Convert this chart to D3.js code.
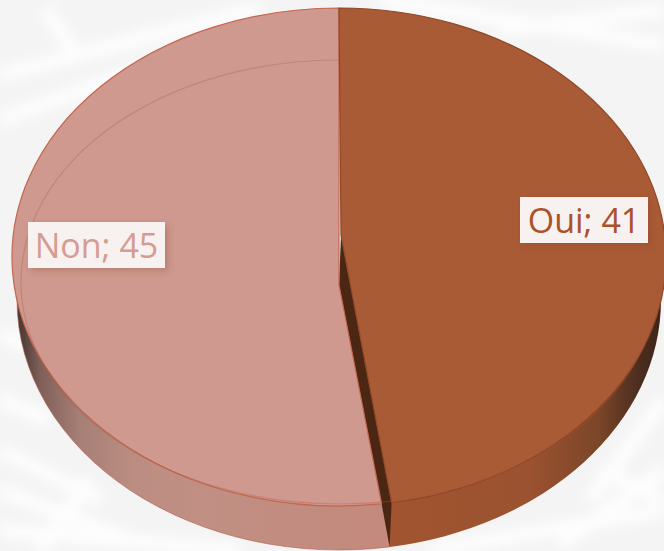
<!DOCTYPE html>
<html>
<head>
<meta charset="utf-8">
<script src="https://cdn.jsdelivr.net/npm/d3@7"></script>
<style>
  html, body { margin: 0; padding: 0; background: #f3f3f3; }
  svg { display: block; }
  text { font-family: "Open Sans", sans-serif; }
</style>
</head>
<body>
<svg id="chart" width="664" height="551"></svg>
<script>
const categories = ['Oui', 'Non'];
const values = [41, 45];
const sliceColors = ['#a95b36', '#cf998f'];
const labelColors = ['#ab5229', '#d59c92'];

const width = 664, height = 551;
const svg = d3.select('#chart');
const defs = svg.append('defs');

// top face and bottom edge of the disc
const face = { cx: 339, cy: 257, rx: 327, ry: 249 };
const base = { cx: 339, cy: 300, rx: 322, ry: 250 };

function wallGradient(id, stops) {
  const g = defs.append('linearGradient').attr('id', id)
    .attr('gradientUnits', 'userSpaceOnUse')
    .attr('x1', 0).attr('x2', width).attr('y1', 0).attr('y2', 0);
  stops.forEach(s => g.append('stop').attr('offset', s[0]).attr('stop-color', s[1]));
}
wallGradient('wallNon', [[0.03, '#4a3a35'], [0.06, '#7f5f58'], [0.12, '#a67f76'], [0.2, '#bb8d82'], [0.3, '#c18f84'], [0.6, '#c4897c']]);
wallGradient('wallOui', [[0.58, '#a2552f'], [0.8, '#9a5230'], [0.9, '#7c4629'], [0.965, '#4a2c1e'], [1, '#3c2417']]);

const blur = defs.append('filter').attr('id', 'soft')
  .attr('x', '-20%').attr('y', '-20%').attr('width', '140%').attr('height', '140%');
blur.append('feGaussianBlur').attr('stdDeviation', 6);
const shadow = defs.append('filter').attr('id', 'labelShadow')
  .attr('x', '-20%').attr('y', '-30%').attr('width', '140%').attr('height', '170%');
shadow.append('feDropShadow').attr('dx', 3).attr('dy', 3).attr('stdDeviation', 3)
  .attr('flood-color', '#7a3a20').attr('flood-opacity', 0.28);

// background paper
svg.append('rect').attr('width', width).attr('height', height).attr('fill', '#f4f4f4');
const fibres = svg.append('g').attr('filter', 'url(#soft)').attr('fill', 'none')
  .attr('stroke', '#ffffff').attr('stroke-width', 14).attr('opacity', 0.85);
[[0, 75, 260, 8], [0, 120, 180, 55], [45, 10, 80, 60], [380, 0, 664, 45], [500, 30, 664, 10],
 [0, 335, 30, 345], [0, 400, 50, 420], [0, 450, 100, 500], [0, 490, 130, 540], [40, 551, 90, 480], [0, 530, 240, 551],
 [590, 500, 664, 400], [560, 545, 664, 470], [430, 551, 664, 510], [600, 470, 664, 500]]
  .forEach(d => fibres.append('line').attr('x1', d[0]).attr('y1', d[1]).attr('x2', d[2]).attr('y2', d[3]));

const arcs = d3.pie().sort(null).value(d => d)(values);
const x = a => face.cx + face.rx * Math.sin(a);
const y = a => face.cy - face.ry * Math.cos(a);
// lower rim of the top face at a given x
const rimY = px => face.cy + face.ry * Math.sqrt(1 - Math.pow((px - face.cx) / face.rx, 2));

const splitAngle = arcs[0].endAngle;
const splitX = x(splitAngle) + 3;
const splitY = y(splitAngle);
const baseY = base.cy + base.ry * Math.sqrt(1 - Math.pow((splitX - base.cx) / base.rx, 2));

// side wall, split where the slices meet
function wall(leftSide) {
  const end = leftSide ? base.cx - base.rx : base.cx + base.rx;
  return `M${splitX},${splitY} L${splitX},${baseY} A${base.rx},${base.ry} 0 0 ${leftSide ? 1 : 0} ${end},${base.cy} L${end},${face.cy} L${splitX},${splitY}Z`;
}
svg.append('path').attr('d', wall(true)).attr('fill', 'url(#wallNon)')
  .attr('stroke', '#b5624a').attr('stroke-width', 0.6);
svg.append('path').attr('d', wall(false)).attr('fill', 'url(#wallOui)');

// dark inner face visible between the slices
const innerOui = [341, 235], innerNon = [339, 285];
svg.append('path')
  .attr('d', `M${innerOui} L${x(splitAngle) + 5},${rimY(x(splitAngle) + 5)} L${splitX},${baseY} L${x(splitAngle) - 5},${rimY(x(splitAngle) - 5)} L${innerNon}Z`)
  .attr('fill', '#4b2613');

// slice faces
function slicePath(d, i) {
  const inner = i === 0 ? innerOui : innerNon;
  const large = d.endAngle - d.startAngle > Math.PI ? 1 : 0;
  if (i === 0) {
    const ex = x(d.endAngle) + 5;
    return `M${inner} L${x(d.startAngle)},${y(d.startAngle)} A${face.rx},${face.ry} 0 ${large} 1 ${ex},${rimY(ex)}Z`;
  }
  const sx = x(d.startAngle) - 5;
  return `M${inner} L${sx},${rimY(sx)} A${face.rx},${face.ry} 0 ${large} 1 ${x(d.endAngle)},${y(d.endAngle)}Z`;
}
const slices = svg.append('g').selectAll('path').data(arcs).join('path')
  .attr('d', slicePath)
  .attr('fill', (d, i) => sliceColors[i])
  .attr('stroke', (d, i) => i === 0 ? '#8f4726' : '#c4664e')
  .attr('stroke-width', 1.2)
  .attr('stroke-linejoin', 'round');
slices.filter((d, i) => i === 0).raise();

// bevel ring on the top face
svg.append('ellipse')
  .attr('cx', 339).attr('cy', 282).attr('rx', 318).attr('ry', 222)
  .attr('fill', 'none').attr('stroke', '#a9553a').attr('stroke-opacity', 0.3).attr('stroke-width', 1.2);

// data labels
const labelBoxes = [[520, 197, 128, 46], [28, 222, 137, 46]];
const label = svg.append('g').selectAll('g').data(arcs).join('g');
label.append('rect')
  .attr('x', (d, i) => labelBoxes[i][0]).attr('y', (d, i) => labelBoxes[i][1])
  .attr('width', (d, i) => labelBoxes[i][2]).attr('height', (d, i) => labelBoxes[i][3])
  .attr('fill', '#f7f1f0').attr('filter', 'url(#labelShadow)');
label.append('text')
  .attr('x', (d, i) => labelBoxes[i][0] + labelBoxes[i][2] / 2)
  .attr('y', (d, i) => labelBoxes[i][1] + 36)
  .attr('text-anchor', 'middle')
  .attr('font-size', 34)
  .attr('fill', (d, i) => labelColors[i])
  .text((d, i) => categories[i] + '; ' + d.value);
</script>
</body>
</html>
